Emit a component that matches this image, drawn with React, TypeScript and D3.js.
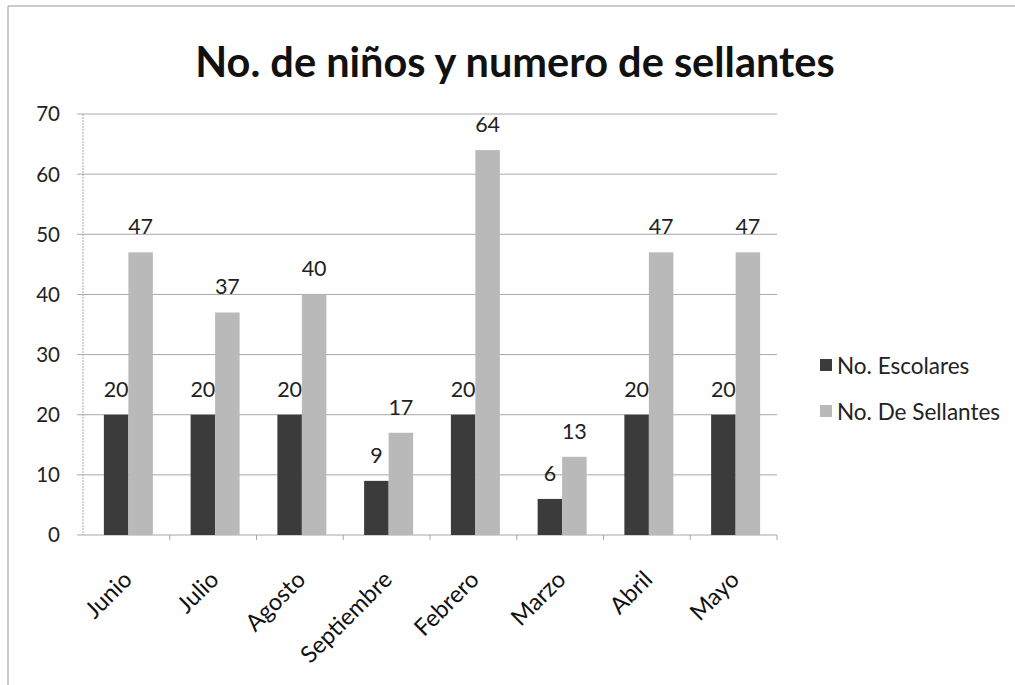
import React from "react";
import * as d3 from "d3";

const categories = ["Junio", "Julio", "Agosto", "Septiembre", "Febrero", "Marzo", "Abril", "Mayo"];
const escolares = [20, 20, 20, 9, 20, 6, 20, 20];
const sellantes = [47, 37, 40, 17, 64, 13, 47, 47];
const seriesNames = ["No. Escolares", "No. De Sellantes"];
const yTicks = [0, 10, 20, 30, 40, 50, 60, 70];
const colors = ["#3b3b3b", "#b9b9b9"];

const W = 1015;
const H = 685;
const left = 83;
const right = 777;
const top = 114;
const bottom = 535;
const font = "Lato, 'Open Sans', sans-serif";

export default function App() {
  const x = d3.scaleBand<string>().domain(categories).range([left, right]).paddingInner(0).paddingOuter(0);
  const y = d3.scaleLinear().domain([0, 70]).range([bottom, top]);
  const bw = 24.5;
  const series = [escolares, sellantes];
  return (
    <svg width={W} height={H} style={{ position: "absolute", left: 0, top: 0, background: "#fff" }}>
      <line x1={8} x2={1015} y1={6} y2={6} stroke="#999" />
      <line x1={8} x2={8} y1={6} y2={685} stroke="#999" />
      <text x={515} y={77} textAnchor="middle" fontFamily={font} fontWeight="bold" fontSize={41.5} fill="#111">
        No. de niños y numero de sellantes
      </text>
      {yTicks.map((t) => (
        <g key={t}>
          <line x1={left - 6} x2={right} y1={y(t)} y2={y(t)} stroke="#a8a8a8" strokeWidth={1} />
          <text x={60} y={y(t)} dy="0.36em" textAnchor="end" fontFamily={font} fontSize={20.5} fill="#222">
            {t}
          </text>
        </g>
      ))}
      <line x1={left} x2={left} y1={top} y2={bottom} stroke="#a8a8a8" strokeDasharray="2,1" />
      {categories.map((c) => (
        <line key={c} x1={x(c)! + x.bandwidth()} x2={x(c)! + x.bandwidth()} y1={bottom} y2={bottom + 5} stroke="#a8a8a8" />
      ))}
      {categories.map((c, i) => {
        const cx = x(c)! + x.bandwidth() / 2 + 2;
        return (
          <g key={c}>
            {series.map((s, j) => {
              const bx = cx - bw + j * bw;
              return (
                <g key={j}>
                  <rect x={bx} y={y(s[i])} width={bw} height={bottom - y(s[i])} fill={colors[j]} />
                  <text x={bx + bw / 2} y={y(s[i]) - 18} textAnchor="middle" fontFamily={font} fontSize={21.5} fill="#222">
                    {s[i]}
                  </text>
                </g>
              );
            })}
            <text
              transform={`translate(${cx - 8},${568}) rotate(-45)`}
              textAnchor="end"
              dominantBaseline="hanging"
              fontFamily={font}
              fontSize={23.5}
              fill="#111"
            >
              {c}
            </text>
          </g>
        );
      })}
      {seriesNames.map((n, j) => (
        <g key={n}>
          <rect x={820} y={359 + j * 46} width={12} height={12} fill={colors[j]} />
          <text x={837} y={366 + j * 46} dy="0.35em" fontFamily={font} fontSize={22.5} fill="#222">
            {n}
          </text>
        </g>
      ))}
    </svg>
  );
}
